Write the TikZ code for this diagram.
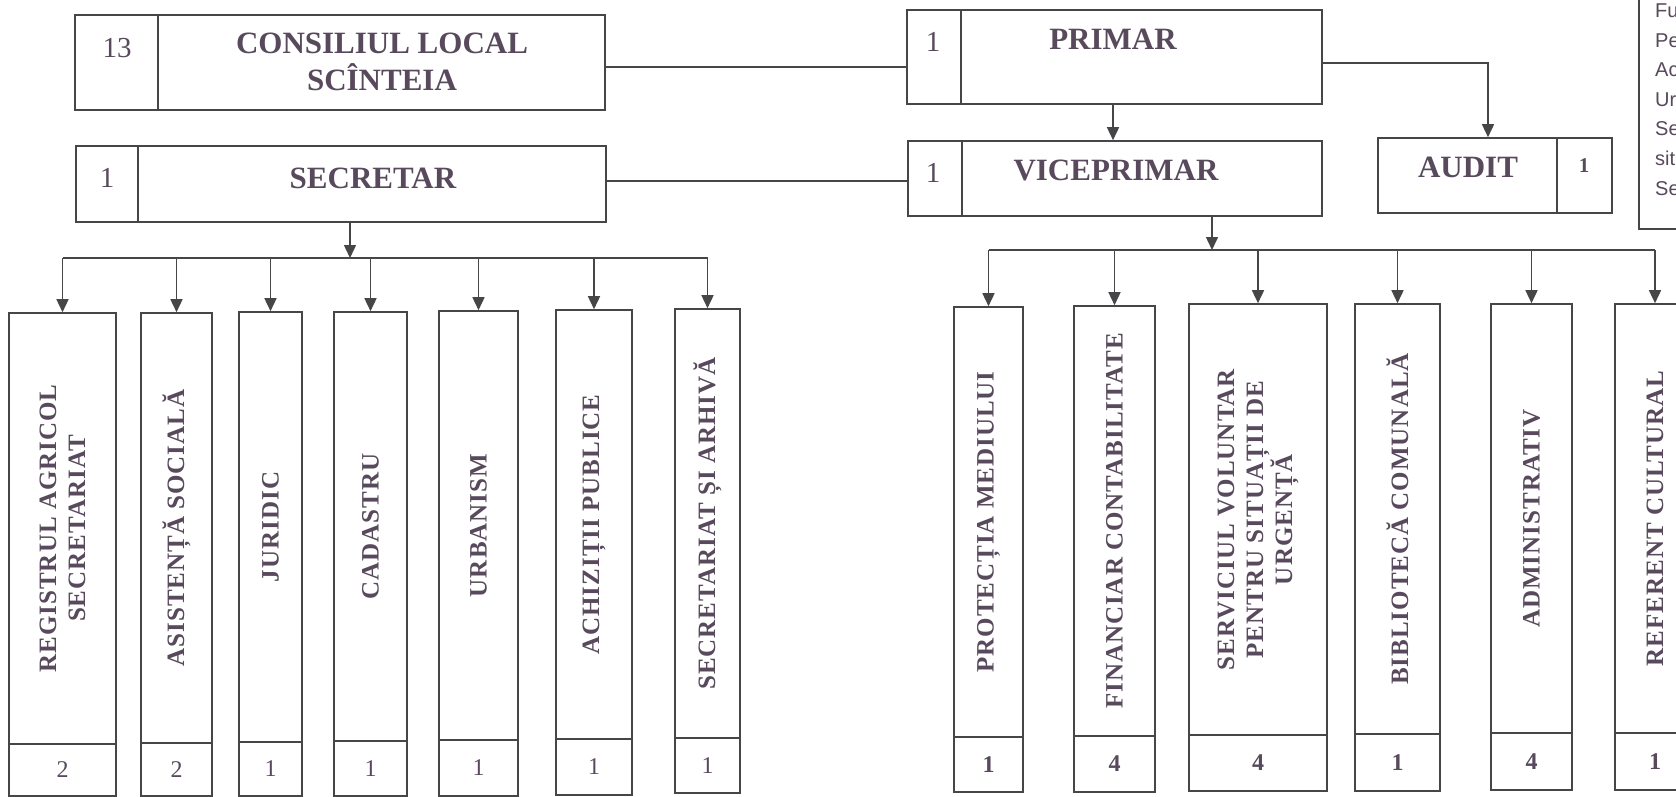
\documentclass[tikz,border=0pt]{standalone}
\usepackage{fontspec}
\setmainfont{Liberation Serif}
\newfontfamily\deptfont{Liberation Serif}[LetterSpace=4]
\newfontfamily\notefont{Liberation Sans}
\usetikzlibrary{arrows.meta}
\definecolor{ink}{RGB}{88,74,92}
\definecolor{edge}{RGB}{70,70,72}
\tikzset{
 boxst/.style={draw=edge, line width=1.6pt, inner sep=0pt, rectangle},
 boxline/.style={draw=edge, line width=1.6pt},
 ln/.style={draw=edge, line width=1.5pt},
 arr/.style={ln, -{Triangle[length=13pt,width=12pt]}},
 head/.style={text=ink, font=\bfseries\fontsize{31}{37}\selectfont, align=center, inner sep=0pt},
 cnt/.style={text=ink, font=\fontsize{29}{34}\selectfont, inner sep=0pt},
 depttext/.style={text=ink, font=\deptfont\bfseries\fontsize{25}{29}\selectfont, align=center, rotate=90, inner sep=0pt},
 numl/.style={text=ink, font=\fontsize{24}{28}\selectfont, inner sep=0pt},
 numr/.style={text=ink, font=\bfseries\fontsize{24}{28}\selectfont, inner sep=0pt},
 note/.style={text=ink, font=\notefont\fontsize{20}{24}\selectfont, inner sep=0pt},
}
\newcommand\mkbox[5]{\node[boxst, minimum width={(#4-#2)*1pt}, minimum height={(#5-#3)*1pt}] (#1) at ({(#2+#4)/2},{(#3+#5)/2}) {};}
\newcommand\dept[9]{%
  \mkbox{#1}{#2}{#4}{#3}{#6}
  \draw[boxline] (#2,#5) -- (#3,#5);
  \node[depttext] (#1t) at ({(#2+#3)/2},{(#4+#5)/2}) {#7};
  \node[#9] (#1n) at ({(#2+#3)/2},{(#5+#6)/2}) {#8};
}
\begin{document}
\begin{tikzpicture}[x=1pt,y=-1pt]
\useasboundingbox (0,0) rectangle (1676,796);
\clip (0,0) rectangle (1676,796);
\fill[white] (0,0) rectangle (1676,796);
% top headers
\mkbox{cons}{75}{15}{605}{110}
\draw[boxline] (158,15) -- (158,110);
\node[cnt] (consn) at (117,48) {13};
\node[head] (const) at (382,62) {CONSILIUL LOCAL\\SCÎNTEIA};
\mkbox{secr}{76}{146}{606}{222}
\draw[boxline] (138,146) -- (138,222);
\node[cnt] (secrn) at (107,178) {1};
\node[head] (secrt) at (373,178) {SECRETAR};
\mkbox{prim}{907}{10}{1322}{104}
\draw[boxline] (961,10) -- (961,104);
\node[cnt] (primn) at (933,42) {1};
\node[head] (primt) at (1113,39) {PRIMAR};
\mkbox{vice}{908}{141}{1322}{216}
\draw[boxline] (962,141) -- (962,216);
\node[cnt] (vicen) at (933,173) {1};
\node[head] (vicet) at (1116,170) {VICEPRIMAR};
\mkbox{aud}{1378}{138}{1612}{213}
\draw[boxline] (1557,138) -- (1557,213);
\node[head] (audt) at (1468,167) {AUDIT};
\node[numr, font=\bfseries\fontsize{21}{25}\selectfont] (audn) at (1584,166) {1};
% note box (cut by page edge)
\draw[line width=1.2pt, draw=edge] (1690,-5) -- (1639,-5) -- (1639,229) -- (1690,229);
\foreach \t [count=\i] in {Fu,Pe,Ac,Ur,Se,sit,Se}
  \node[note, anchor=base west] (note\i) at (1655,{17.5+(\i-1)*29.6}) {\t};
% left departments
\dept{reg}{9}{116}{313}{744}{796}{REGISTRUL AGRICOL\\SECRETARIAT}{2}{numl}
\dept{asis}{141}{212}{313}{743}{796}{ASISTENȚĂ SOCIALĂ}{2}{numl}
\dept{jur}{239}{302}{312}{742}{796}{JURIDIC}{1}{numl}
\dept{cad}{334}{407}{312}{741}{796}{CADASTRU}{1}{numl}
\dept{urb}{439}{518}{311}{740}{796}{URBANISM}{1}{numl}
\dept{ach}{556}{632}{310}{739}{795}{ACHIZIȚII PUBLICE}{1}{numl}
\dept{sa}{675}{740}{309}{738}{793}{SECRETARIAT ȘI ARHIVĂ}{1}{numl}
% right departments
\dept{prot}{954}{1023}{307}{737}{792}{PROTECȚIA MEDIULUI}{1}{numr}
\dept{fin}{1074}{1155}{306}{736}{792}{FINANCIAR CONTABILITATE}{4}{numr}
\dept{serv}{1189}{1327}{304}{735}{791}{SERVICIUL VOLUNTAR\\PENTRU SITUAȚII DE\\URGENȚĂ}{4}{numr}
\dept{bib}{1355}{1440}{304}{734}{791}{BIBLIOTECĂ COMUNALĂ}{1}{numr}
\dept{adm}{1491}{1572}{304}{733}{790}{ADMINISTRATIV}{4}{numr}
\dept{ref}{1615}{1695}{304}{733}{790}{REFERENT CULTURAL}{1}{numr}
% connectors
\coordinate (ya) at (0,67);
\draw[ln] (cons.east |- ya) -- (prim.west |- ya);
\coordinate (yb) at (0,181);
\draw[ln] (secr.east |- yb) -- (vice.west |- yb);
\coordinate (xa) at (1113,0);
\draw[arr] (prim.south -| xa) -- (vice.north -| xa);
\coordinate (yc) at (0,63);
\coordinate (xb) at (1488,0);
\draw[arr] (prim.east |- yc) -| (aud.north -| xb);
\coordinate (xc) at (350,0);
\coordinate (busl) at (0,258);
\draw[arr] (secr.south -| xc) -- (xc |- busl);
\draw[ln] (reg.north |- busl) -- (sa.north |- busl);
\foreach \n in {reg,asis,jur,cad,urb,ach,sa}
  \draw[arr] (\n.north |- busl) -- (\n.north);
\coordinate (xd) at (1212,0);
\coordinate (busr) at (0,250);
\draw[arr] (vice.south -| xd) -- (xd |- busr);
\draw[ln] (prot.north |- busr) -- (ref.north |- busr);
\foreach \n in {prot,fin,serv,bib,adm,ref}
  \draw[arr] (\n.north |- busr) -- (\n.north);
\end{tikzpicture}
\end{document}
